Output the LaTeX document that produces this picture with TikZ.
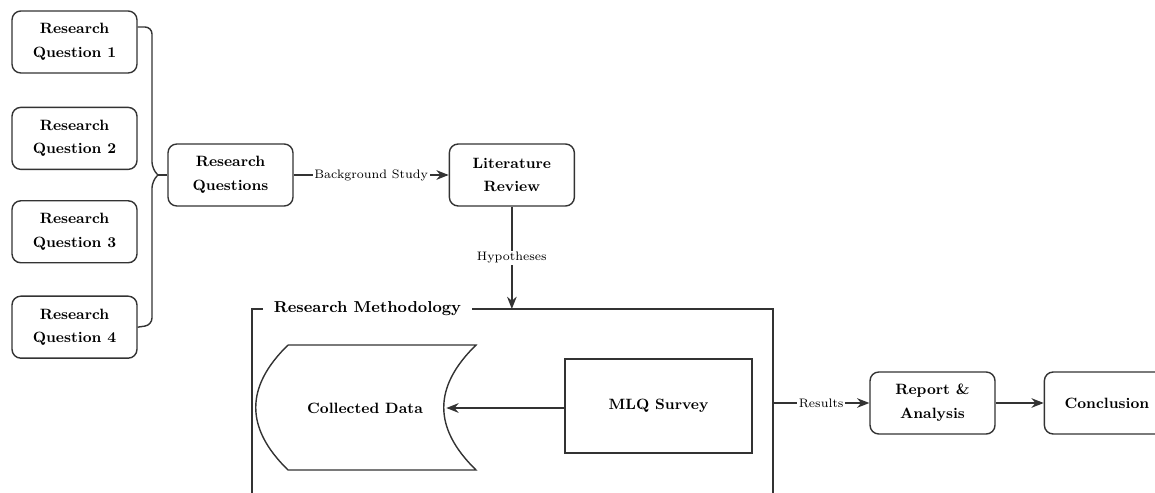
\documentclass[tikz,border=0pt]{standalone}
\usetikzlibrary{arrows.meta,positioning}
\tikzset{
    roundbox/.style={rectangle,rounded corners=5pt,draw=black!80,line width=0.8pt,align=center,text centered,minimum width=2.5cm,minimum height=1.24cm,inner sep=1pt,font=\fontsize{8.5}{13.5}\selectfont\bfseries},
    plainbox/.style={rectangle,draw=black!80,line width=0.8pt,text centered,font=\fontsize{8.5}{13.5}\selectfont\bfseries},
    flowlabel/.style={fill=white,inner sep=1pt,font=\fontsize{7}{8}\selectfont},
    link/.style={draw=black!80,line width=0.8pt},
}

\begin{document}
\begin{tikzpicture}[x=0.02cm,y=-0.02cm,>={Stealth[length=7pt,width=5.5pt]}]
\useasboundingbox (0,0) rectangle (1155,493);
% research questions
\node[roundbox](q1) at (74.5,42) {Research\\Question 1};
\node[roundbox](q2) [below =0.66cm of q1] {Research\\Question 2};
\node[roundbox](q3) [below =0.6cm of q2] {Research\\Question 3};
\node[roundbox](q4) [below =0.64cm of q3] {Research\\Question 4};
\node[roundbox](rq) at (230.5,175) {Research\\Questions};
\node[roundbox](lit) [right =3.1cm of rq] {Literature\\Review};
% brace
\coordinate (brtip) at (158,175);
\draw[link,rounded corners=4pt] ([yshift=0.3cm]q1.east) -- (152,27) -- (152,169) -- (brtip);
\draw[link,rounded corners=4pt] (q4.east) -- (152,325) -- (152,181) -- (brtip);
\draw[link] (brtip) -- (rq.west);
\draw[link,->] (rq) -- node[flowlabel]{Background Study} (lit);
% methodology frame
\node[inner xsep=0.22cm,inner ysep=1pt,font=\fontsize{9}{11}\selectfont\bfseries](mtitle) at (367.5,309) {Research Methodology};
\coordinate (mtop) at (lit.south |- mtitle);
\coordinate (mright) at (773,403);
\draw[link] (mtitle.west) -- (252,309) -- (252,520);
\draw[link] (mtitle.east) -- (773,309) -- (773,520);
\draw[link,->] (lit.south) -- node[flowlabel]{Hypotheses} (mtop);
% collected data and survey
\draw[link] (288,345) -- (476,345) .. controls (433,387) and (433,428) .. (476,470)
    -- (288,470) .. controls (245,428) and (245,387) .. (288,345);
\node[inner sep=0pt,minimum width=3.24cm,font=\fontsize{8.5}{13.5}\selectfont\bfseries](data) at (365,408) {Collected Data};
\node[plainbox,minimum width=3.74cm,minimum height=1.88cm](mlq) at (658.5,406) {MLQ Survey};
\draw[link,->] (mlq.west |- data) -- (data.east);
% results
\node[roundbox](report) at (932.5,403) {Report \&\\Analysis};
\node[roundbox](concl) [right =0.96cm of report] {Conclusion};
\draw[link,->] (mright) -- node[flowlabel]{Results} (report);
\draw[link,->] (report) -- (concl);
\end{tikzpicture}
\end{document}
